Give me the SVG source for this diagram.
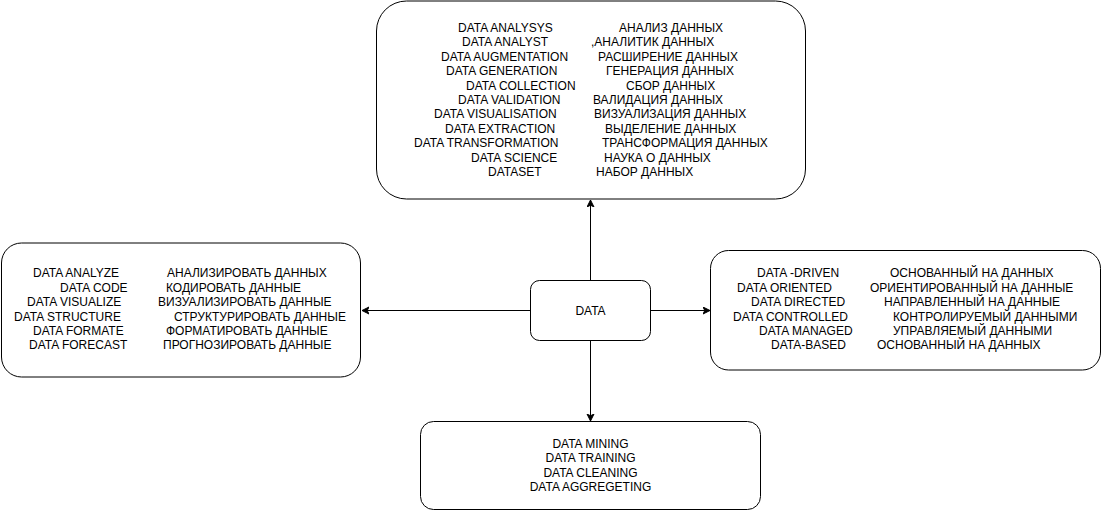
<svg xmlns="http://www.w3.org/2000/svg" width="1101" height="511" viewBox="0 0 1101 511">
<defs>
<style>
.box{fill:#fff;stroke:#000;stroke-width:1}
.t{font-family:"Liberation Sans",Arial,sans-serif;font-size:12px;fill:#000}
.c{text-anchor:middle}
.edge{fill:none;stroke:#000;stroke-width:1}
</style>
<marker id="arr" markerUnits="userSpaceOnUse" markerWidth="10" markerHeight="10" refX="7" refY="4" orient="auto">
<path d="M0,0.5 L7,4 L0,7.5 L1.8,4 Z" fill="#000" stroke="#000" stroke-width="1"/>
</marker>
</defs>
<rect width="1101" height="511" fill="#fff"/>
<g id="connectors">
<path class="edge" d="M590.5,280.5 V200" marker-end="url(#arr)"/>
<path class="edge" d="M590.5,340.5 V421" marker-end="url(#arr)"/>
<path class="edge" d="M530.5,310.5 H362" marker-end="url(#arr)"/>
<path class="edge" d="M650.5,310.5 H710" marker-end="url(#arr)"/>
</g>
<g id="node-top">
<rect class="box" x="376.5" y="1" width="429" height="198" rx="30" ry="30"/>
<g class="t">
<text x="458" y="32">DATA ANALYSYS</text><text x="619" y="32">АНАЛИЗ ДАННЫХ</text>
<text x="462" y="46.4">DATA ANALYST</text><text x="591" y="46.4">,АНАЛИТИК ДАННЫХ</text>
<text x="441" y="60.8">DATA AUGMENTATION</text><text x="598" y="60.8">РАСШИРЕНИЕ ДАННЫХ</text>
<text x="446" y="75.2">DATA GENERATION</text><text x="606" y="75.2">ГЕНЕРАЦИЯ ДАННЫХ</text>
<text x="466" y="89.6">DATA COLLECTION</text><text x="626" y="89.6">СБОР ДАННЫХ</text>
<text x="458" y="104">DATA VALIDATION</text><text x="593" y="104">ВАЛИДАЦИЯ ДАННЫХ</text>
<text x="434" y="118.4">DATA VISUALISATION</text><text x="594" y="118.4">ВИЗУАЛИЗАЦИЯ ДАННЫХ</text>
<text x="445" y="132.8">DATA EXTRACTION</text><text x="605" y="132.8">ВЫДЕЛЕНИЕ ДАННЫХ</text>
<text x="414" y="147.2">DATA TRANSFORMATION</text><text x="602" y="147.2">ТРАНСФОРМАЦИЯ ДАННЫХ</text>
<text x="471" y="161.6">DATA SCIENCE</text><text x="604" y="161.6">НАУКА О ДАННЫХ</text>
<text x="488" y="176">DATASET</text><text x="596" y="176">НАБОР ДАННЫХ</text>
</g>
</g>
<g id="node-left">
<rect class="box" x="1.5" y="243" width="359" height="134" rx="20" ry="20"/>
<g class="t">
<text x="33" y="277.3">DATA ANALYZE</text><text x="167" y="277.3">АНАЛИЗИРОВАТЬ ДАННЫХ</text>
<text x="60" y="291.7">DATA CODE</text><text x="166" y="291.7">КОДИРОВАТЬ ДАННЫЕ</text>
<text x="27" y="306.1">DATA VISUALIZE</text><text x="158" y="306.1">ВИЗУАЛИЗИРОВАТЬ ДАННЫЕ</text>
<text x="14" y="320.5">DATA STRUCTURE</text><text x="174" y="320.5">СТРУКТУРИРОВАТЬ ДАННЫЕ</text>
<text x="33" y="334.9">DATA FORMATE</text><text x="166" y="334.9">ФОРМАТИРОВАТЬ ДАННЫЕ</text>
<text x="29" y="349.3">DATA FORECAST</text><text x="163" y="349.3">ПРОГНОЗИРОВАТЬ ДАННЫЕ</text>
</g>
</g>
<g id="node-right">
<rect class="box" x="710.5" y="250.5" width="390" height="119.5" rx="18" ry="18"/>
<g class="t">
<text x="757" y="277.3">DATA -DRIVEN</text><text x="890" y="277.3">ОСНОВАННЫЙ НА ДАННЫХ</text>
<text x="737" y="291.7">DATA ORIENTED</text><text x="870" y="291.7">ОРИЕНТИРОВАННЫЙ НА ДАННЫЕ</text>
<text x="751" y="306.1">DATA DIRECTED</text><text x="884" y="306.1">НАПРАВЛЕННЫЙ НА ДАННЫЕ</text>
<text x="733" y="320.5">DATA CONTROLLED</text><text x="893" y="320.5">КОНТРОЛИРУЕМЫЙ ДАННЫМИ</text>
<text x="759" y="334.9">DATA MANAGED</text><text x="893" y="334.9">УПРАВЛЯЕМЫЙ ДАННЫМИ</text>
<text x="771" y="349.3">DATA-BASED</text><text x="877" y="349.3">ОСНОВАННЫЙ НА ДАННЫХ</text>
</g>
</g>
<g id="node-data">
<rect class="box" x="530.5" y="280.5" width="120" height="60" rx="9" ry="9"/>
<text class="t c" x="590.5" y="314.5">DATA</text>
</g>
<g id="node-bottom">
<rect class="box" x="420.5" y="421.5" width="340" height="88" rx="13" ry="13"/>
<g class="t c">
<text x="590.5" y="448">DATA MINING</text>
<text x="590.5" y="462.4">DATA TRAINING</text>
<text x="590.5" y="476.8">DATA CLEANING</text>
<text x="590.5" y="491.2">DATA AGGREGETING</text>
</g>
</g>
</svg>
